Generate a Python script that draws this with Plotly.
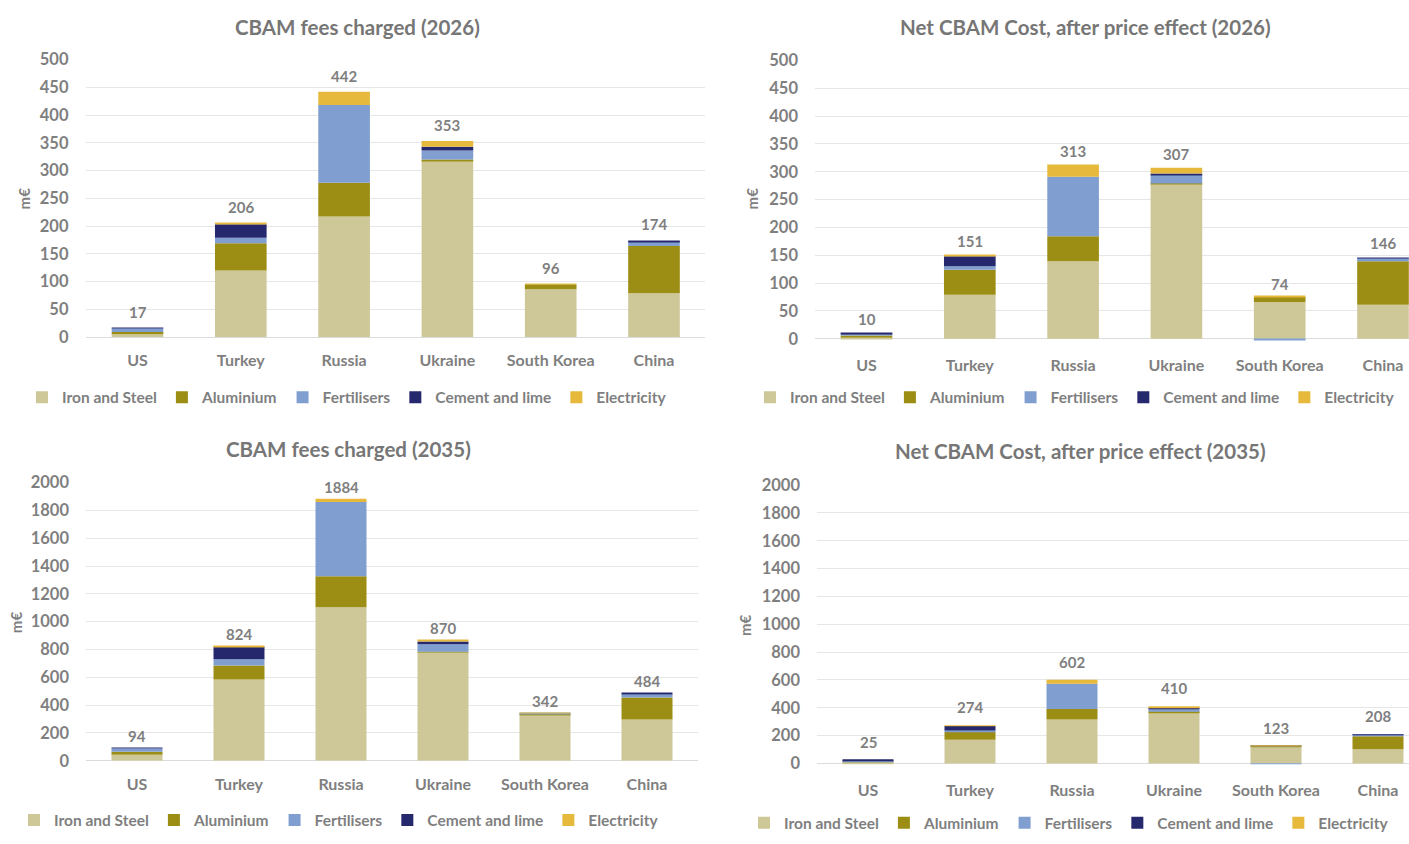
import plotly.graph_objects as go

# The page is opened at 1409x844 with no margin; positions below are screen pixels.
SCREEN_W, SCREEN_H = 1409, 844
OFF = 0
W, H = SCREEN_W - 2 * OFF, SCREEN_H - 2 * OFF

categories = ["US", "Turkey", "Russia", "Ukraine", "South Korea", "China"]
series_names = ["Iron and Steel", "Aluminium", "Fertilisers", "Cement and lime", "Electricity"]
series_colors = ["#CEC899", "#9C8E14", "#809FD0", "#26286E", "#E6B93C"]

# CBAM fees charged (2026), m€
fees2026_iron = [5, 120, 217, 318, 86, 79]
fees2026_alu = [4, 49, 61, 2, 9, 85]
fees2026_fert = [7, 10, 140, 16, 0, 8]
fees2026_cement = [1, 24, 0, 7, 0, 2]
fees2026_elec = [0, 3, 24, 10, 1, 0]
fees2026_total = [17, 206, 442, 353, 96, 174]

# Net CBAM cost after price effect (2026), m€
net2026_iron = [3, 79, 139, 278, 66, 61]
net2026_alu = [3, 45, 45, 1, 9, 78]
net2026_fert = [3, 6, 107, 15, -2, 6]
net2026_cement = [1, 18, 0, 3, 0, 1]
net2026_elec = [0, 3, 22, 10, 1, 0]
net2026_total = [10, 151, 313, 307, 74, 146]

# CBAM fees charged (2035), m€
fees2035_iron = [52, 585, 1104, 781, 327, 297]
fees2035_alu = [12, 100, 222, 3, 12, 157]
fees2035_fert = [25, 45, 534, 53, 1, 24]
fees2035_cement = [5, 89, 0, 21, 0, 6]
fees2035_elec = [0, 5, 24, 12, 2, 0]
fees2035_total = [94, 824, 1884, 870, 342, 484]

# Net CBAM cost after price effect (2035), m€
net2035_iron = [11, 171, 316, 368, 118, 101]
net2035_alu = [5, 55, 75, 3, 6, 95]
net2035_fert = [6, 10, 182, 20, -3, 10]
net2035_cement = [3, 33, 0, 7, 1, 2]
net2035_elec = [0, 5, 29, 12, 1, 0]
net2035_total = [25, 274, 602, 410, 123, 208]

FONT = "Lato"
GREY = "#7f7f7f"
TITLE_GREY = "#767676"
GRID = "#e6e6e6"


def fx(px):
    return (px - OFF) / W


def fy(py):
    return 1 - (py - OFF) / H


panels = [
    dict(title="CBAM fees charged (2026)",
         series=[fees2026_iron, fees2026_alu, fees2026_fert, fees2026_cement, fees2026_elec],
         totals=fees2026_total, c0=137.5, step=103.3, xleft=85.5,
         y0=335.0, ytop=50.7, ymax=500, ymin=0, dtick=50,
         title_xy=(357.5, 17), unit_xy=(24, 193), legend_xy=(22, 397), shift=16),
    dict(title="Net CBAM Cost, after price effect (2026)",
         series=[net2026_iron, net2026_alu, net2026_fert, net2026_cement, net2026_elec],
         totals=net2026_total, c0=866.5, step=103.3, xleft=815,
         y0=336.7, ytop=51.7, ymax=500, ymin=-6, dtick=50,
         title_xy=(1085, 17), unit_xy=(752, 193), legend_xy=(750, 397), shift=14),
    dict(title="CBAM fees charged (2035)",
         series=[fees2035_iron, fees2035_alu, fees2035_fert, fees2035_cement, fees2035_elec],
         totals=fees2035_total, c0=137, step=102, xleft=86,
         y0=769.0, ytop=484.0, ymax=2000, ymin=0, dtick=200,
         title_xy=(348, 450), unit_xy=(16, 627), legend_xy=(14, 830), shift=12),
    dict(title="Net CBAM Cost, after price effect (2035)",
         series=[net2035_iron, net2035_alu, net2035_fert, net2035_cement, net2035_elec],
         totals=net2035_total, c0=868, step=102, xleft=817,
         y0=771.7, ytop=486.7, ymax=2000, ymin=-25, dtick=200,
         title_xy=(1080, 452), unit_xy=(745, 630), legend_xy=(744, 833), shift=18),
]

fig = go.Figure()
annotations = []
layout_extra = {}

for i, p in enumerate(panels, start=1):
    sfx = "" if i == 1 else str(i)
    xname, yname = "x" + sfx, "y" + sfx
    legname = "legend" + sfx
    for vals, name, color in zip(p["series"], series_names, series_colors):
        fig.add_trace(go.Bar(
            x=categories, y=vals, name=name, marker_color=color,
            marker_line_width=0, xaxis=xname, yaxis=yname, legend=legname,
            hoverinfo="skip"))
    xright_wanted = p["xleft"] + 6 * p["step"]
    xright = min(xright_wanted, OFF + W)
    xdom = [fx(p["xleft"]), fx(xright)]
    xr = [(p["xleft"] - p["c0"]) / p["step"], (xright - p["c0"]) / p["step"]]
    ppu = (p["y0"] - p["ytop"]) / p["ymax"]
    ybottom = p["y0"] + (-p["ymin"]) * ppu
    ydom = [fy(ybottom), fy(p["ytop"])]
    layout_extra["xaxis" + sfx] = dict(
        domain=xdom, range=xr, anchor=yname, showgrid=False, zeroline=False,
        showline=False, ticks="", ticklabelstandoff=12,
        tickfont=dict(family=FONT, size=16, color=GREY, weight="bold"),
        fixedrange=True)
    layout_extra["yaxis" + sfx] = dict(
        domain=ydom, range=[p["ymin"], p["ymax"]], anchor=xname,
        tick0=0, dtick=p["dtick"], showgrid=True, gridcolor=GRID, gridwidth=1,
        zeroline=True, zerolinecolor="#dcdcdc", zerolinewidth=1, showline=False,
        ticks="", ticklabelstandoff=16,
        tickfont=dict(family=FONT, size=16.5, color=GREY, weight="bold"),
        fixedrange=True)
    layout_extra[legname] = dict(
        orientation="h", x=fx(p["legend_xy"][0]), y=fy(p["legend_xy"][1]),
        xanchor="left", yanchor="middle", bgcolor="rgba(0,0,0,0)",
        font=dict(family=FONT, size=15.5, color=GREY, weight="bold"),
        traceorder="normal", itemclick=False, itemdoubleclick=False)
    annotations.append(dict(
        text=p["title"], xref="paper", yref="paper",
        x=fx(p["title_xy"][0]), y=fy(p["title_xy"][1]),
        xanchor="center", yanchor="middle", showarrow=False,
        font=dict(family=FONT, size=20.5, color=TITLE_GREY, weight="bold")))
    annotations.append(dict(
        text="m€", xref="paper", yref="paper",
        x=fx(p["unit_xy"][0]), y=fy(p["unit_xy"][1]), textangle=-90,
        xanchor="center", yanchor="middle", showarrow=False,
        font=dict(family=FONT, size=15, color=GREY, weight="bold")))
    for cat, tot in zip(categories, p["totals"]):
        annotations.append(dict(
            text=str(tot), x=cat, y=tot, xref=xname, yref=yname,
            xanchor="center", yanchor="middle", yshift=p["shift"], showarrow=False,
            font=dict(family=FONT, size=15, color=GREY, weight="bold")))

fig.update_layout(
    width=W, height=H, margin=dict(l=0, r=0, t=0, b=0, pad=0),
    paper_bgcolor="white", plot_bgcolor="white",
    barmode="relative", bargap=0.5,
    annotations=annotations, **layout_extra)

fig.write_html("out.html")
